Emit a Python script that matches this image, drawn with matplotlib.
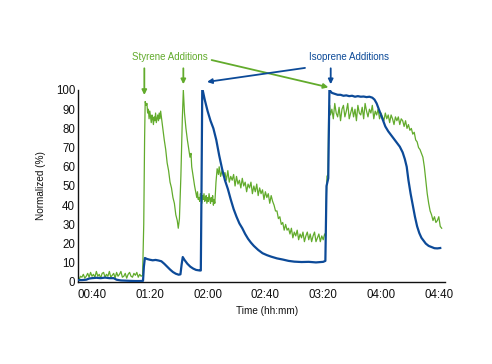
import matplotlib
matplotlib.use("Agg")
import matplotlib.pyplot as plt

# ---- data (time in minutes since 00:00, value in %) ----
styrene_points = [
    (30, 2), (31, 1), (32, 3), (33, 2.5), (34, 4), (35, 2), (36, 3), (37, 4.5), (38, 2.5), (39, 5),
    (40, 3), (41, 4), (42, 2.5), (43, 5.5), (44, 3), (45, 4), (46, 2), (47, 4.5), (48, 5), (49, 2.5),
    (50, 4), (51, 3), (52, 5.5), (53, 2.5), (54, 3.5), (55, 4.5), (56, 2), (57, 5), (58, 3), (59, 4),
    (60, 5.5), (61, 2.5), (62, 3), (63, 4.5), (64, 2), (65, 4), (66, 5), (67, 3), (68, 2.5), (69, 4.5),
    (70, 3.5), (71, 5), (72, 2.5), (73, 4), (74, 3), (75, 3.5),
    (75.8, 30), (76.4, 75), (76.8, 94), (77.5, 92), (78, 93), (78.5, 88), (79, 90), (79.5, 85),
    (80, 89), (80.5, 86), (81, 83), (81.5, 87), (82, 85), (82.5, 82), (83, 86), (83.5, 84),
    (84, 88), (84.5, 83), (85, 85), (85.5, 87), (86, 84), (86.5, 88), (87, 85), (87.5, 89), (88, 86),
    (89, 80), (90, 74), (91, 69), (92, 62), (93, 58), (94, 52), (95, 49), (96, 44), (97, 41),
    (98, 35), (99, 32), (99.7, 28), (100.5, 33), (101.5, 55), (102.5, 85), (103.2, 100),
    (104, 88), (105, 80), (106, 74), (107, 69), (107.8, 65), (108.5, 67), (109, 60), (110, 55),
    (111, 50), (112, 46), (112.5, 44), (113, 47), (113.5, 43), (114, 44), (114.5, 42), (115, 46),
    (115.5, 44), (116, 41), (116.5, 45), (117, 43), (117.5, 46), (118, 42), (118.5, 43), (119, 45),
    (119.5, 41), (120, 44), (120.5, 42), (121, 46), (121.5, 43), (122, 41), (122.5, 44), (123, 42),
    (123.5, 45), (124, 40), (124.5, 43), (125, 41), (125.8, 52), (126.6, 59), (127.5, 56), (128, 60),
    (129, 55), (130, 58), (131, 55), (132, 57), (133, 53), (134, 58), (135, 52), (136, 55), (137, 53),
    (138, 56), (139, 50), (140, 55), (141, 51), (142, 53), (143, 49), (144, 54), (145, 50), (146, 52),
    (147, 47), (148, 51), (149, 49), (150, 52), (151, 46), (152, 50), (153, 47), (154, 51), (155, 45),
    (156, 49), (157, 46), (158, 48), (159, 43), (160, 47), (161, 44), (162, 46), (163, 41), (164, 45),
    (165, 42), (166, 40), (167, 37), (168, 37), (169, 33), (170, 34), (171, 30), (172, 31), (173, 27),
    (174, 30), (175, 27), (176, 28), (177, 25), (178, 28), (179, 23), (180, 26), (181, 24), (182, 27),
    (183, 22), (184, 25), (185, 23), (186, 26), (187, 21), (188, 24), (189, 26), (190, 22), (191, 25),
    (192, 21), (193, 24), (194, 26), (195, 21), (196, 23), (197, 25), (198, 21), (199, 24), (200, 22),
    (201, 25), (201.6, 24), (202.2, 45), (202.6, 55), (203.3, 56), (203.8, 88),
    (204.5, 92), (205, 87), (206, 90), (207, 85), (208, 93), (209, 88), (210, 86), (211, 91),
    (212, 84), (213, 90), (214, 92), (215, 86), (216, 89), (217, 93), (218, 85), (219, 88),
    (220, 91), (221, 86), (222, 90), (223, 84), (224, 92), (225, 88), (226, 87), (227, 91),
    (228, 85), (229, 93), (230, 89), (231, 86), (232, 90), (233, 88), (234, 92), (235, 85),
    (236, 89), (237, 87), (238, 90), (239, 85), (240, 88), (241, 86), (242, 84), (243, 88),
    (244, 85), (245, 87), (246, 83), (247, 87), (248, 85), (249, 82), (250, 86), (251, 84),
    (252, 86), (253, 82), (254, 85), (255, 84), (256, 81), (257, 84), (258, 80), (259, 82),
    (260, 79), (261, 80), (262, 77), (263, 78), (264, 74), (265, 73), (266, 70), (267, 69),
    (268, 67), (269, 65), (270, 60), (271, 53), (272, 46), (273, 41), (274, 37), (275, 35),
    (276, 32), (277, 34), (278, 31), (279, 32), (280, 34), (281, 29), (282, 28),
]

isoprene_points = [
    (30, 1), (33, 1), (36, 1.2), (38, 1.8), (40, 2), (43, 2.2), (46, 2), (49, 2.3), (52, 2),
    (55, 2), (57, 1.2), (60, 0.8), (63, 0.7), (66, 0.6), (70, 0.5), (73, 0.5), (75.3, 0.6),
    (75.9, 8), (76.6, 12.5), (78, 12), (80, 11.6), (82, 11.3), (84, 11.5), (86, 11.2), (88, 10.8),
    (90, 9.5), (92, 8), (94, 6.5), (96, 5.2), (98, 4.3), (100, 3.8), (101.2, 4), (102, 9),
    (102.8, 13), (104, 11.5), (106, 9.5), (108, 8), (110, 7), (112, 6.3), (114.5, 6), (115.3, 6),
    (115.8, 50), (116.3, 101), (118, 95), (120, 89), (122, 84), (124, 80), (126, 74), (128, 66),
    (130, 59), (132, 53), (134, 48.5), (136, 43), (138, 38), (140, 34), (142, 30.5), (144, 28),
    (146, 25), (148, 22.5), (150, 20.5), (152, 18.8), (155, 16.7), (158, 15), (161, 14),
    (164, 13.2), (168, 12.3), (172, 11.7), (176, 11), (180, 10.6), (185, 10.4), (190, 10.5),
    (195, 10.2), (200, 10.5), (201.5, 11), (202.3, 50), (203.5, 54), (204.3, 100), (206, 98.5),
    (208, 98), (210, 97.5), (212, 97.5), (214, 97), (216, 97.2), (218, 96.8), (220, 97),
    (222, 96.5), (224, 96.8), (226, 96.5), (228, 96.6), (230, 96.3), (232, 96.5), (234, 96),
    (235.5, 95), (237, 93), (239, 89), (241, 85), (243, 81), (245, 78.5), (247, 76.5),
    (249, 74.5), (251, 72.5), (253, 70.5), (255, 67.5), (256.5, 64), (257.8, 60), (259, 53),
    (260.5, 46), (262, 40), (263.5, 34), (265, 29), (266.5, 25.5), (268, 23), (269.5, 21.5),
    (271, 20), (273, 18.8), (275, 18.2), (277, 17.6), (279, 17.5), (281, 17.7),
]

styrene_t = [p[0] for p in styrene_points]
styrene_v = [p[1] for p in styrene_points]
isoprene_t = [p[0] for p in isoprene_points]
isoprene_v = [p[1] for p in isoprene_points]

x_ticks = [40, 80, 120, 160, 200, 240, 280]
x_tick_labels = ["00:40", "01:20", "02:00", "02:40", "03:20", "04:00", "04:40"]
y_ticks = [0, 10, 20, 30, 40, 50, 60, 70, 80, 90, 100]

GREEN = "#62AB2C"
BLUE = "#0C4A98"

plt.rcParams['font.family'] = ['Liberation Sans', 'DejaVu Sans']

fig = plt.figure(figsize=(4.92, 3.64), dpi=100)
ax = fig.add_axes([78 / 492, 1 - 282 / 364, (445 - 78) / 492, (282 - 90) / 364])

ax.plot(styrene_t, styrene_v, color=GREEN, lw=0.9, zorder=2)
ax.plot(isoprene_t, isoprene_v, color=BLUE, lw=1.6, zorder=3)

ax.set_xlim(30.3, 284.3)
ax.set_ylim(0, 100)
ax.set_xticks(x_ticks)
ax.set_xticklabels(x_tick_labels)
ax.set_yticks(y_ticks)
ax.tick_params(axis='both', length=0, labelsize=8.3, colors='#111111')
ax.tick_params(axis='x', pad=5)
ax.tick_params(axis='y', pad=2)
for s in ['top', 'right']:
    ax.spines[s].set_visible(False)
for s in ['left', 'bottom']:
    ax.spines[s].set_linewidth(1.0)
    ax.spines[s].set_color('#111111')

ax.set_xlabel("Time (hh:mm)", fontsize=7.2, color='#111111')
ax.set_ylabel("Normalized (%)", fontsize=7.2, color='#111111')
ax.xaxis.set_label_coords(0.515, -0.125)
ax.yaxis.set_label_coords(-0.087, 0.5)

ann_font = ['Liberation Sans Narrow', 'Liberation Sans', 'DejaVu Sans']
ax.text(94, 117, "Styrene Additions", color=GREEN, fontsize=7, family=ann_font,
        ha='center', va='center', clip_on=False)
ax.text(218, 117, "Isoprene Additions", color=BLUE, fontsize=7, family=ann_font,
        ha='center', va='center', clip_on=False)

def arrow(x0, y0, x1, y1, color):
    ax.annotate("", xy=(x1, y1), xytext=(x0, y0), annotation_clip=False,
                arrowprops=dict(arrowstyle='-|>', color=color, lw=1.3,
                                mutation_scale=7, shrinkA=0, shrinkB=0))

arrow(76.2, 111.3, 76.2, 97.4, GREEN)
arrow(103.2, 111.3, 103.2, 103.0, GREEN)
arrow(122.8, 115.6, 203.6, 101.4, GREEN)
arrow(205.2, 111.3, 205.2, 103.0, BLUE)
arrow(187.4, 111.5, 119.6, 104.2, BLUE)

fig.savefig("out.png", dpi=100, facecolor='white')
